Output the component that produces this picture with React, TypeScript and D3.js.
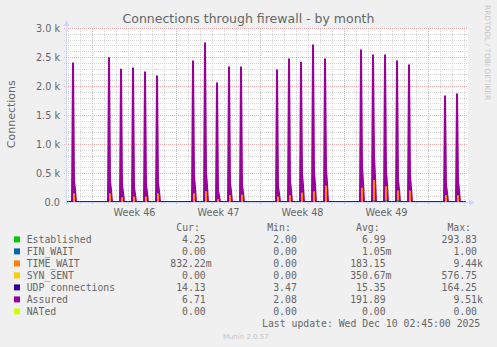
import React from "react";
import * as d3 from "d3";

// ---------- data ----------
const spikeDays = [
  "2025-11-07", "2025-11-10", "2025-11-11", "2025-11-12", "2025-11-13", "2025-11-14",
  "2025-11-17", "2025-11-18", "2025-11-19", "2025-11-20", "2025-11-21",
  "2025-11-24", "2025-11-25", "2025-11-26", "2025-11-27", "2025-11-28",
  "2025-12-01", "2025-12-02", "2025-12-03", "2025-12-04", "2025-12-05",
  "2025-12-08", "2025-12-09",
];
const assuredPeak = [2400, 2490, 2295, 2315, 2245, 2175, 2435, 2745, 2055, 2330, 2330, 2280, 2470, 2415, 2710, 2470, 2625, 2540, 2540, 2435, 2365, 1830, 1865];
const assuredShoulder = [375, 375, 305, 260, 305, 335, 455, 515, 205, 330, 300, 275, 375, 490, 530, 585, 620, 790, 545, 385, 450, 305, 375];
const assuredTail = [230, 220, 180, 150, 180, 200, 270, 300, 120, 200, 180, 160, 220, 290, 310, 340, 360, 450, 320, 230, 260, 180, 220];
const timeWaitPeak = [155, 155, 85, 100, 100, 155, 155, 190, 50, 120, 135, 100, 120, 170, 190, 290, 255, 360, 240, 170, 205, 120, 120];
const establishedSpike = [0, 0, 0, 0, 0, 0, 0, 0, 0, 0, 0, 0, 0, 0, 0, 0, 0, 30, 35, 35, 0, 0, 0];
const baseEstablished = 4;
const baseUdp = 14;
const baseAssured = 7;

const yTicks = [0, 500, 1000, 1500, 2000, 2500, 3000];
const yTickLabels = ["0.0", "0.5 k", "1.0 k", "1.5 k", "2.0 k", "2.5 k", "3.0 k"];
const weekLabels = ["Week 46", "Week 47", "Week 48", "Week 49"];
const weekMidDays = ["2025-11-12", "2025-11-19", "2025-11-26", "2025-12-03"];

const legendNames = ["Established", "FIN_WAIT", "TIME_WAIT", "SYN_SENT", "UDP connections", "Assured", "NATed"];
const legendColors = ["#00cc00", "#0066b3", "#ff8000", "#ffcc00", "#330099", "#990099", "#ccff00"];
const curValues = ["4.25", "0.00", "832.22m", "0.00", "14.13", "6.71", "0.00"];
const minValues = ["2.00", "0.00", "0.00", "0.00", "3.47", "2.08", "0.00"];
const avgValues = ["6.99", "1.05m", "183.15", "350.67m", "15.35", "191.89", "0.00"];
const maxValues = ["293.83", "1.00", "9.44k", "576.75", "164.25", "9.51k", "0.00"];
const lastUpdate = "Last update: Wed Dec 10 02:45:00 2025";

// ---------- helpers ----------
const at = (day: string, h: number) => new Date(Date.parse(day + "T00:00:00Z") + h * 3600e3);
const fmt = (s: string) => {
  const m = s.match(/^([\d.]+)([a-zA-Z]?)$/);
  if (!m) return s;
  return m[1].padStart(6, " ") + (m[2] || " ");
};

const FONT = "'DejaVu Sans', sans-serif";
const MONO = "'DejaVu Sans Mono', monospace";
const TXT = "#666666";
const AXIS = "#cfd6f8";

export default function App() {
  const t0 = new Date(Date.UTC(2025, 10, 6, 21, 0));
  const t1 = new Date(Date.UTC(2025, 11, 10, 5, 0));
  const dataEnd = new Date(Date.UTC(2025, 11, 10, 2, 45));
  const x = d3.scaleUtc().domain([t0, t1]).range([67, 467]);
  const y = d3.scaleLinear().domain([0, 3000]).range([202.5, 28.5]);
  const snap = (v: number) => Math.round(v - 0.5) + 0.5;

  // stacked areas
  type AP = { t: Date; est: number; tw: number; udp: number };
  const base = { est: baseEstablished, tw: 0, udp: baseUdp };
  const areaPts: AP[] = [{ t: t0, ...base }];
  spikeDays.forEach((d, i) => {
    areaPts.push({ t: at(d, 9), est: baseEstablished + establishedSpike[i], tw: timeWaitPeak[i], udp: baseUdp });
    areaPts.push({ t: at(d, 13), ...base });
  });
  areaPts.push({ t: dataEnd, ...base });

  const mk = (lo: (p: AP) => number, hi: (p: AP) => number) =>
    d3.area<AP>().x((p) => x(p.t)).y0((p) => y(lo(p))).y1((p) => y(hi(p))).curve(d3.curveStepAfter)(areaPts) || "";
  const estPath = mk(() => 0, (p) => p.est);
  const twPath = mk((p) => p.est, (p) => p.est + p.tw);
  const udpPath = mk((p) => p.est + p.tw, (p) => p.est + p.tw + p.udp);

  // assured line
  type LP = { t: Date; v: number };
  const asr: LP[] = [{ t: t0, v: baseAssured }];
  spikeDays.forEach((d, i) => {
    asr.push({ t: at(d, 7), v: baseAssured });
    asr.push({ t: at(d, 9), v: assuredPeak[i] });
    asr.push({ t: at(d, 11), v: assuredShoulder[i] });
    asr.push({ t: at(d, 13), v: assuredTail[i] });
    asr.push({ t: at(d, 15), v: baseAssured });
  });
  asr.push({ t: dataEnd, v: baseAssured });
  const asrLine = d3.line<LP>().x((p) => x(p.t)).y((p) => y(p.v))(asr) || "";
  const asrArea = d3.area<LP>().x((p) => x(p.t)).y0(y(0)).y1((p) => y(p.v))(asr) || "";

  // grid
  const days = d3.utcDay.range(d3.utcDay.ceil(t0), t1);
  const minorY = d3.range(100, 3001, 100).filter((v) => v % 500 !== 0);

  const rowY = (i: number) => 242.7 + i * 12;

  return (
    <svg width={497} height={347} style={{ position: "absolute", left: 0, top: 0 }} xmlns="http://www.w3.org/2000/svg">
      <rect x={0} y={0} width={497} height={347} fill="#f0f0f0" />
      <rect x={67} y={28} width={401} height={175} fill="#ffffff" />
      <defs>
        <clipPath id="plot">
          <rect x={67} y={20} width={401} height={183} />
        </clipPath>
      </defs>
      {/* minor grid */}
      <g shapeRendering="crispEdges" stroke="#d6d6d6" strokeDasharray="1,1" strokeWidth={1}>
        {minorY.map((v) => (
          <line key={"hy" + v} x1={64} x2={468} y1={snap(y(v))} y2={snap(y(v))} />
        ))}
        {days.filter((d) => d.getUTCDay() !== 0).map((d) => (
          <line key={"vx" + +d} x1={snap(x(d))} x2={snap(x(d))} y1={28.5} y2={205} />
        ))}
      </g>
      {/* major grid */}
      <g shapeRendering="crispEdges" stroke="#f0aaaa" strokeDasharray="1,1" strokeWidth={1}>
        {yTicks.map((v) => (
          <line key={"My" + v} x1={64} x2={468} y1={snap(y(v))} y2={snap(y(v))} />
        ))}
        {days.filter((d) => d.getUTCDay() === 0).map((d) => (
          <line key={"Mx" + +d} x1={snap(x(d))} x2={snap(x(d))} y1={28.5} y2={205} />
        ))}
      </g>
      {/* data */}
      <g clipPath="url(#plot)">
        <path d={asrArea} fill="#990099" />
        <path d={asrLine} fill="none" stroke="#990099" strokeWidth={2} strokeLinejoin="round" />
        <path d={udpPath} fill="#330099" />
        <path d={twPath} fill="#ff8000" />
        <path d={estPath} fill="#00cc00" />
      </g>
      {/* axes */}
      <g shapeRendering="crispEdges" stroke={AXIS} strokeWidth={1}>
        <line x1={66.5} x2={66.5} y1={205} y2={24} />
        <line x1={64} x2={470} y1={202.5} y2={202.5} />
      </g>
      <path d="M66.5,20 L63.5,26 L69.5,26 Z" fill={AXIS} />
      <path d="M475,202.5 L469,199.5 L469,205.5 Z" fill={AXIS} />
      {/* title */}
      <text x={248.5} y={23} textAnchor="middle" fontFamily={FONT} fontSize={12.5} fill={TXT}>
        Connections through firewall - by month
      </text>
      {/* y ticks */}
      {yTicks.map((v, i) => (
        <text key={"yt" + v} x={60} y={y(v) + 3.6} textAnchor="end" fontFamily={FONT} fontSize={9.7} fill={TXT}>
          {yTickLabels[i]}
        </text>
      ))}
      {/* week labels */}
      {weekLabels.map((w, i) => (
        <text key={w} x={x(at(weekMidDays[i], 12))} y={215.7} textAnchor="middle" fontFamily={FONT} fontSize={9.7} fill={TXT}>
          {w}
        </text>
      ))}
      {/* y label */}
      <text transform="translate(15,114.2) rotate(-90)" textAnchor="middle" fontFamily={FONT} fontSize={11} fill={TXT}>
        Connections
      </text>
      {/* rrdtool watermark */}
      <text transform="translate(485,5) rotate(90)" fontFamily={FONT} fontSize={7.4} fill="#c4c4c4">
        RRDTOOL / TOBI OETIKER
      </text>
      {/* legend */}
      <g fontFamily={MONO} fontSize={9.8} fill={TXT} style={{ whiteSpace: "pre" }}>
        <text x={176.3} y={230.7}>Cur:</text>
        <text x={267.2} y={230.7}>Min:</text>
        <text x={356} y={230.7}>Avg:</text>
        <text x={447.4} y={230.7}>Max:</text>
        {legendNames.map((n, i) => (
          <g key={n}>
            <rect x={14} y={rowY(i) - 6.3} width={6} height={6} fill={legendColors[i]} />
            <text x={26.7} y={rowY(i)}>{n}</text>
            <text x={170.3} y={rowY(i)} xmlSpace="preserve">{fmt(curValues[i])}</text>
            <text x={261.4} y={rowY(i)} xmlSpace="preserve">{fmt(minValues[i])}</text>
            <text x={350.2} y={rowY(i)} xmlSpace="preserve">{fmt(avgValues[i])}</text>
            <text x={441.6} y={rowY(i)} xmlSpace="preserve">{fmt(maxValues[i])}</text>
          </g>
        ))}
        <text x={262} y={326.7}>{lastUpdate}</text>
      </g>
      <text x={245.8} y={339} textAnchor="middle" fontFamily={FONT} fontSize={7} fill="#c4c4c4">
        Munin 2.0.57
      </text>
    </svg>
  );
}
